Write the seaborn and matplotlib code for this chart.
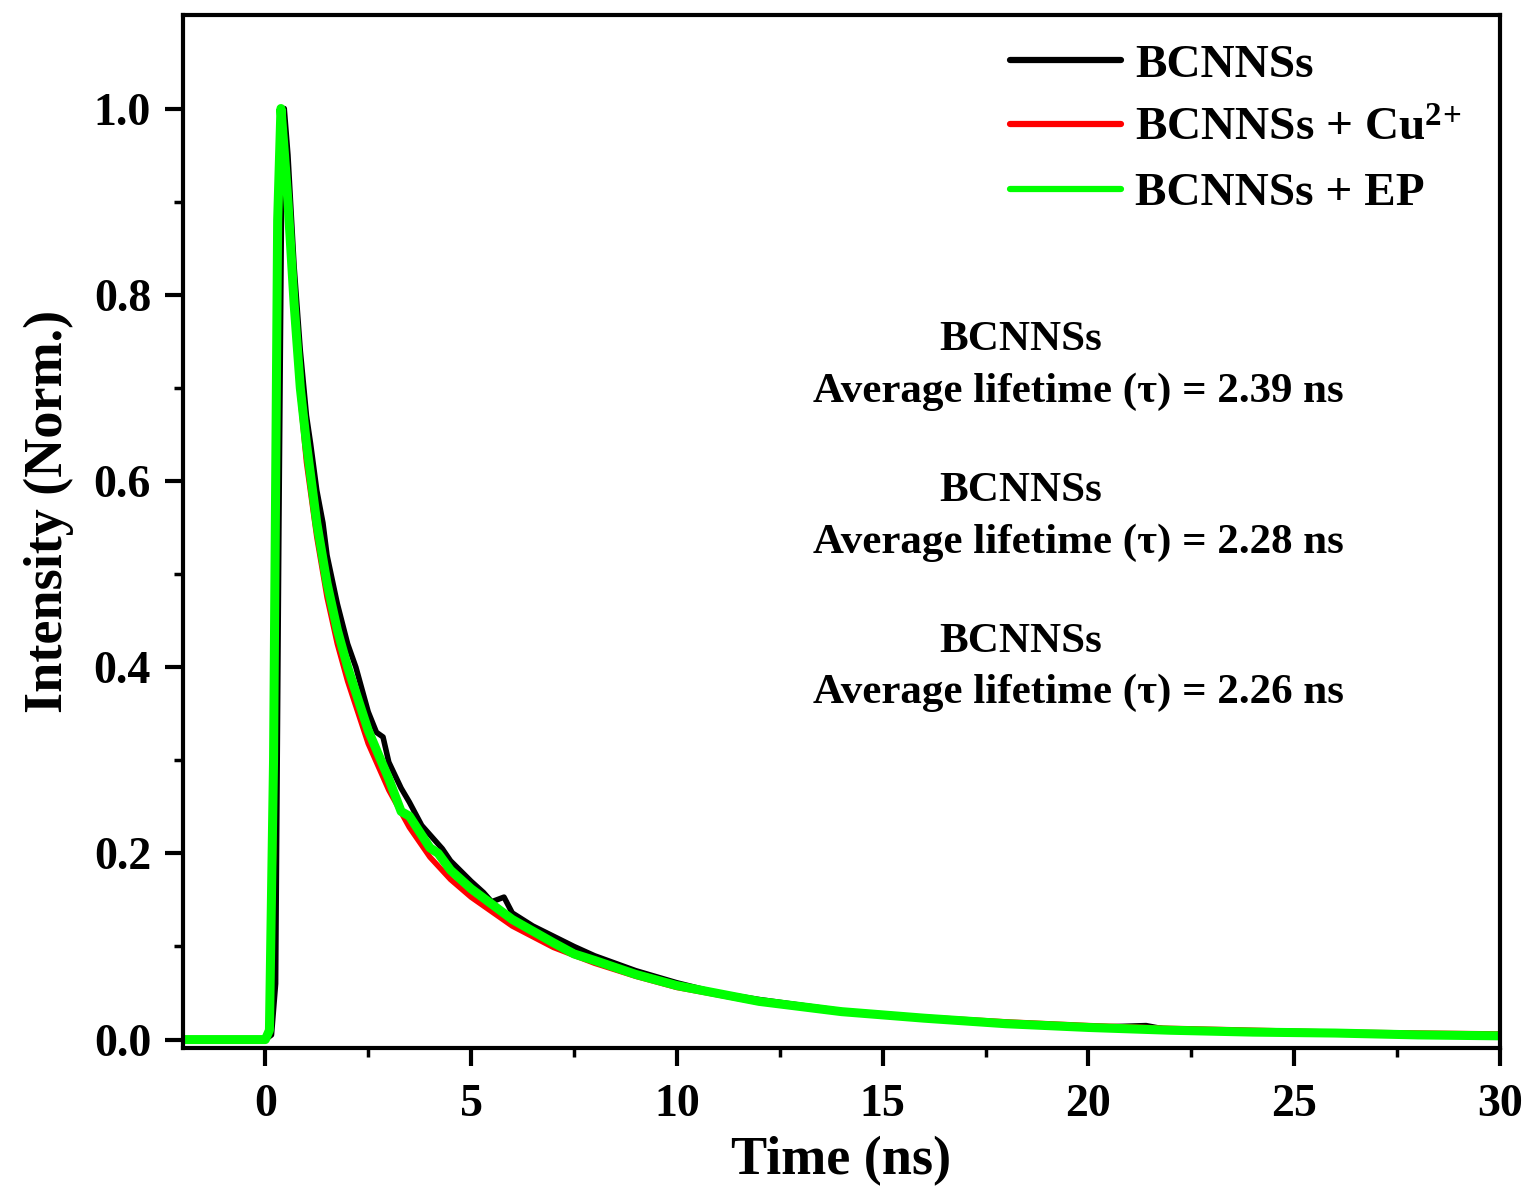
import numpy as np
import pandas as pd
import matplotlib
matplotlib.use("Agg")
import matplotlib.pyplot as plt
import seaborn as sns

# -----------------------------
# Data
# -----------------------------
time_bc = [-2.0, -0.5, 0.0, 0.15, 0.25, 0.33, 0.4, 0.46, 0.55, 0.7, 0.85, 1.0, 1.1, 1.25,
           1.4, 1.5, 1.75, 2.0, 2.2, 2.5, 2.7, 2.86, 3.0, 3.3, 3.5, 3.8, 4.0, 4.3, 4.5,
           5.0, 5.3, 5.5, 5.8, 6.0, 6.5, 7.0, 7.5, 8.0, 8.5, 9.0, 10.0, 11.0, 12.0, 14.0,
           16.0, 18.0, 20.0, 21.4, 22.0, 24.0, 26.0, 28.0, 30.0]
int_bc = [0.0, 0.0, 0.0, 0.005, 0.06, 0.55, 0.93, 1.0, 0.95, 0.83, 0.74, 0.67, 0.64, 0.59,
          0.555, 0.52, 0.468, 0.425, 0.4, 0.352, 0.33, 0.325, 0.298, 0.27, 0.255, 0.23,
          0.22, 0.205, 0.192, 0.17, 0.158, 0.148, 0.153, 0.136, 0.122, 0.111, 0.1, 0.09,
          0.082, 0.074, 0.061, 0.05, 0.043, 0.031, 0.023, 0.017, 0.013, 0.015, 0.01, 0.008,
          0.006, 0.005, 0.003]

time_cu = [-2.0, -0.5, 0.0, 0.1, 0.2, 0.3, 0.38, 0.45, 0.55, 0.7, 0.85, 1.0, 1.25, 1.5,
           1.75, 2.0, 2.5, 3.0, 3.5, 4.0, 4.5, 5.0, 6.0, 7.0, 8.0, 9.0, 10.0, 12.0, 14.0,
           16.0, 18.0, 20.0, 22.0, 24.0, 26.0, 28.0, 30.0]
int_cu = [0.0, 0.0, 0.0, 0.01, 0.2, 0.8, 0.99, 0.97, 0.9, 0.78, 0.69, 0.62, 0.54, 0.475,
          0.425, 0.385, 0.318, 0.268, 0.228, 0.196, 0.172, 0.153, 0.122, 0.099, 0.082,
          0.068, 0.056, 0.04, 0.031, 0.024, 0.019, 0.015, 0.012, 0.01, 0.008, 0.007, 0.006]

time_ep = [-2.0, -0.5, 0.0, 0.1, 0.2, 0.3, 0.38, 0.45, 0.55, 0.7, 0.85, 1.0, 1.25, 1.5,
           1.75, 2.0, 2.5, 3.0, 3.3, 3.5, 4.0, 4.2, 4.5, 5.0, 6.0, 7.0, 7.5, 8.0, 9.0, 10.0,
           12.0, 14.0, 16.0, 18.0, 20.0, 22.0, 24.0, 26.0, 28.0, 30.0]
int_ep = [0.0, 0.0, 0.0, 0.01, 0.3, 0.88, 1.0, 0.96, 0.9, 0.79, 0.7, 0.64, 0.555, 0.49,
          0.44, 0.4, 0.332, 0.28, 0.245, 0.24, 0.206, 0.2, 0.182, 0.162, 0.129, 0.104,
          0.092, 0.085, 0.07, 0.058, 0.041, 0.03, 0.023, 0.017, 0.013, 0.01, 0.008, 0.007,
          0.005, 0.004]

labels = ["BCNNSs", r"BCNNSs + Cu$^{2\!+}$", "BCNNSs + EP"]
colors = ["#000000", "#ff0000", "#00ff00"]
lifetimes = [2.39, 2.28, 2.26]

# -----------------------------
# Style
# -----------------------------
sns.set_style("ticks")
plt.rcParams["font.family"] = ["Liberation Serif", "DejaVu Serif"]
plt.rcParams["font.weight"] = "bold"
plt.rcParams["mathtext.fontset"] = "custom"
plt.rcParams["mathtext.rm"] = "Liberation Serif:bold"
plt.rcParams["mathtext.it"] = "Liberation Serif:bold"
plt.rcParams["mathtext.bf"] = "Liberation Serif:bold"
for key in ["text.color", "axes.labelcolor", "xtick.color", "ytick.color", "axes.edgecolor"]:
    plt.rcParams[key] = "black"

fig = plt.figure(figsize=(15.25, 11.86), dpi=100)
ax = fig.add_axes([0.12, 0.1164, 0.8636, 0.8706])

series = [(time_bc, int_bc), (time_cu, int_cu), (time_ep, int_ep)]
widths = [4.0, 4.0, 6.5]
for (t, y), lab, c, w in zip(series, labels, colors, widths):
    df = pd.DataFrame({"Time": t, "Intensity": y})
    sns.lineplot(data=df, x="Time", y="Intensity", color=c, lw=w, label=lab,
                 ax=ax, sort=False, solid_capstyle="round")

ax.set_xlim(-2, 30)
ax.set_ylim(-0.009, 1.1)
ax.set_xticks(np.arange(0, 31, 5))
ax.set_xticks(np.arange(0, 31, 2.5), minor=True)
ax.set_yticks(np.arange(0, 1.01, 0.2))
ax.set_yticks(np.arange(0, 1.01, 0.1), minor=True)
ax.yaxis.set_major_formatter(plt.FormatStrFormatter("%.1f"))

ax.set_xlabel("Time (ns)", fontsize=39, fontweight="bold", labelpad=7)
ax.set_ylabel("Intensity (Norm.)", fontsize=39, fontweight="bold")
ax.yaxis.set_label_coords(-0.083, 0.52)

for s in ax.spines.values():
    s.set_linewidth(3)
    s.set_visible(True)
ax.tick_params(axis="both", which="major", direction="out", length=13, width=3,
               labelsize=33)
ax.tick_params(axis="x", which="major", pad=13)
ax.tick_params(axis="y", which="major", pad=10)
ax.tick_params(axis="both", which="minor", direction="out", length=6.5, width=2.5)
for lab in ax.get_xticklabels() + ax.get_yticklabels():
    lab.set_fontweight("bold")

leg = ax.legend(loc="upper right", bbox_to_anchor=(1.003, 1.014), frameon=False,
                fontsize=34, handlelength=2.35, handletextpad=0.3, labelspacing=0.45,
                borderaxespad=0.5)
for h in leg.get_lines():
    h.set_linewidth(4.5)
for t in leg.get_texts():
    t.set_fontweight("bold")

# Lifetime annotations
for i, tau in enumerate(lifetimes):
    y0 = 0.751 - i * 0.162
    ax.text(18.35, y0, "BCNNSs", fontsize=31, fontweight="bold", ha="center", va="center")
    ax.text(19.75, y0 - 0.055, f"Average lifetime (\u03c4) = {tau:.2f} ns", fontsize=31,
            fontweight="bold", ha="center", va="center")

fig.savefig("out.png", dpi=100)
plt.close(fig)
